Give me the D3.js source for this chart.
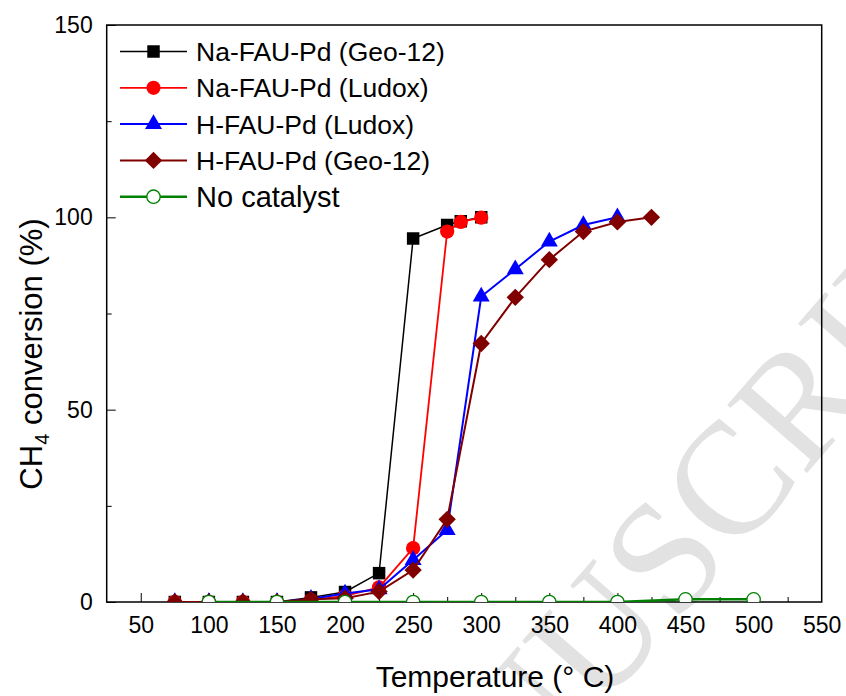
<!DOCTYPE html>
<html lang="en">
<head>
<meta charset="UTF-8">
<script src="https://d3js.org/d3.v7.min.js"></script>
<title>CH4 conversion</title>
<style>
  body { margin: 0; background: #fff; }
  text { font-family: "Liberation Sans", Arial, sans-serif; }
</style>
</head>
<body>
<div id="chart"></div>
<script>

// temperatures (deg C) and conversions (%)
var tempsNa = [75, 100, 125, 150, 175, 200, 225, 250, 275, 285, 300];
var naGeo12 = [0, 0, 0, 0, 1.2, 2.6, 7.5, 94.5, 98, 99, 100];
var naLudox = [0, 0, 0, 0, 0.5, 1.6, 3.8, 14, 96.3, 98.8, 99.9];

var tempsHLudox = [75, 100, 125, 150, 175, 200, 225, 250, 275, 300, 325, 350, 375, 400];
var hLudox = [0, 0, 0, 0, 0.8, 2.2, 3.3, 10.9, 18.7, 79.4, 86.5, 93.7, 98, 100];

var tempsHGeo = [75, 100, 125, 150, 175, 200, 225, 250, 275, 300, 325, 350, 375, 400, 425];
var hGeo12 = [0, 0, 0, 0, 0.7, 1.0, 2.7, 8.3, 21.5, 67.2, 79.2, 89, 96.3, 98.8, 100];

var tempsBlank = [100, 150, 200, 250, 300, 350, 400, 450, 500];
var noCatalyst = [0, 0, 0, 0, 0, 0, 0, 0.7, 0.7];

var seriesNames = ["Na-FAU-Pd (Geo-12)", "Na-FAU-Pd (Ludox)", "H-FAU-Pd (Ludox)", "H-FAU-Pd (Geo-12)", "No catalyst"];
var xTicks = [50, 100, 150, 200, 250, 300, 350, 400, 450, 500, 550];
var yTicks = [0, 50, 100, 150];

var W = 846, H = 696;
var margin = {top: 25, right: 24.3, bottom: 94, left: 106.7};

var svg = d3.select("#chart")
  .append("svg")
    .attr("width", W)
    .attr("height", H);

// faint watermark behind everything
svg.append("text")
    .attr("transform", "translate(354,994) rotate(-49)")
    .style("font-family", "'Liberation Serif', 'Times New Roman', serif")
    .style("font-size", "160px")
    .attr("fill", "#e2e2e2")
    .text("MANUSCRIPT");

var x = d3.scaleLinear().domain([25, 550]).range([margin.left, W - margin.right]);
var y = d3.scaleLinear().domain([0, 150]).range([H - margin.bottom, margin.top]);

svg.append("clipPath").attr("id", "plotclip")
  .append("rect")
    .attr("x", x(25)).attr("y", y(150))
    .attr("width", x(550) - x(25)).attr("height", y(0) - y(150));

// axes: ticks point inward, minor ticks halfway
var gx = svg.append("g")
    .attr("transform", "translate(0," + y(0) + ")");
gx.call(d3.axisTop(x).tickValues(d3.range(75, 550, 50)).tickSize(5).tickFormat(""));
gx.call(g => g.append("g").call(d3.axisTop(x).tickValues(xTicks).tickSize(9).tickFormat("")));
gx.selectAll(".domain").remove();
gx.selectAll("g.tick").filter(function(d){ return d == 550; }).remove();

var xLabels = svg.append("g").attr("transform", "translate(0," + y(0) + ")");
xLabels.call(d3.axisBottom(x).tickValues(xTicks).tickSize(0).tickPadding(15).tickFormat(d3.format("d")));
xLabels.select(".domain").remove();
xLabels.selectAll("text").style("font-size", "23px").attr("fill", "#000");

var gy = svg.append("g").attr("transform", "translate(" + x(25) + ",0)");
gy.call(d3.axisRight(y).tickValues([25, 75, 125]).tickSize(5).tickFormat(""));
gy.append("g").call(d3.axisRight(y).tickValues(yTicks).tickSize(9).tickFormat(""));
gy.selectAll(".domain").remove();

var yLabels = svg.append("g").attr("transform", "translate(" + x(25) + ",0)");
yLabels.call(d3.axisLeft(y).tickValues(yTicks).tickSize(0).tickPadding(14));
yLabels.select(".domain").remove();
yLabels.selectAll("text").style("font-size", "23px").attr("fill", "#000");

// frame
svg.append("rect")
    .attr("x", x(25)).attr("y", y(150))
    .attr("width", x(550) - x(25)).attr("height", y(0) - y(150))
    .attr("fill", "none").attr("stroke", "#000").attr("stroke-width", 1.5);

// axis titles
svg.append("text")
    .attr("x", 495).attr("y", 687)
    .attr("text-anchor", "middle")
    .style("font-size", "30px")
    .text("Temperature (\u00b0 C)");

var yt = svg.append("text")
    .attr("transform", "translate(42,354) rotate(-90)")
    .attr("text-anchor", "middle")
    .style("font-size", "31px");
yt.append("tspan").text("CH");
yt.append("tspan").attr("dy", 7).style("font-size", "20px").text("4");
yt.append("tspan").attr("dy", -7).text(" conversion (%)");

// series
var series = [
  {name: seriesNames[0], t: tempsNa, v: naGeo12, color: "#000000", shape: "square", lw: 1.5},
  {name: seriesNames[1], t: tempsNa, v: naLudox, color: "#ff0000", shape: "circle", lw: 1.8},
  {name: seriesNames[2], t: tempsHLudox, v: hLudox, color: "#0000ff", shape: "triangle", lw: 2},
  {name: seriesNames[3], t: tempsHGeo, v: hGeo12, color: "#800000", shape: "diamond", lw: 2},
  {name: seriesNames[4], t: tempsBlank, v: noCatalyst, color: "#008000", shape: "open", lw: 2.5}
];

function drawMarker(g, s) {
  if (s.shape == "square") {
    g.append("path").attr("d", d3.symbol(d3.symbolSquare, 156)()).attr("fill", s.color);
  } else if (s.shape == "circle") {
    g.append("path").attr("d", d3.symbol(d3.symbolCircle, 160)()).attr("fill", s.color);
  } else if (s.shape == "triangle") {
    g.append("path").attr("d", d3.symbol(d3.symbolTriangle, 125)()).attr("fill", s.color);
  } else if (s.shape == "diamond") {
    g.append("path").attr("d", d3.symbol(d3.symbolSquare, 150)())
      .attr("transform", "rotate(45)").attr("fill", s.color);
  } else {
    g.append("path").attr("d", d3.symbol(d3.symbolCircle, 140)())
      .attr("fill", "#fff").attr("stroke", s.color).attr("stroke-width", 1.3);
  }
}

var plot = svg.append("g").attr("clip-path", "url(#plotclip)");

series.forEach(function(s) {
  var pts = s.t.map(function(t, i) { return [t, s.v[i]]; });
  var g = plot.append("g");
  g.append("path")
    .datum(pts)
    .attr("d", d3.line().x(function(d) { return x(d[0]); }).y(function(d) { return y(d[1]); }))
    .attr("fill", "none")
    .attr("stroke", s.color)
    .attr("stroke-width", s.lw);
  pts.forEach(function(d) {
    var m = g.append("g").attr("transform", "translate(" + x(d[0]) + "," + y(d[1]) + ")");
    drawMarker(m, s);
  });
});

// legend
var legend = svg.append("g");
series.forEach(function(s, i) {
  var ly = 51.5 + i * 36.3;
  var row = legend.append("g").attr("transform", "translate(0," + ly + ")");
  row.append("line")
    .attr("x1", 120).attr("x2", 187)
    .attr("stroke", s.color).attr("stroke-width", s.lw);
  var m = row.append("g").attr("transform", "translate(153.5,0)");
  drawMarker(m, s);
  row.append("text")
    .attr("x", 196).attr("y", 0)
    .attr("dy", "0.36em")
    .style("font-size", i == 4 ? "29px" : "26.5px")
    .text(s.name);
});

</script>
</body>
</html>
